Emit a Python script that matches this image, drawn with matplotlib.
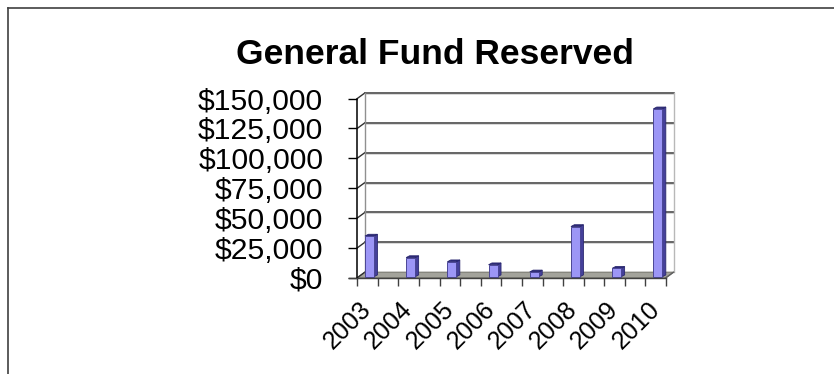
import matplotlib
matplotlib.use("Agg")
import matplotlib.pyplot as plt
from matplotlib.patches import Polygon
from matplotlib.transforms import Affine2D

years = ["2003", "2004", "2005", "2006", "2007", "2008", "2009", "2010"]
reserved = [34000, 16000, 12500, 10000, 4000, 42000, 7000, 140500]
y_ticks = [0, 25000, 50000, 75000, 100000, 125000, 150000]
y_labels = ["$0", "$25,000", "$50,000", "$75,000", "$100,000", "$125,000", "$150,000"]

W, H = 834, 374
DPI = 100
# plot box of the front plane, in pixels from the top left
LEFT, RIGHT, TOP, BOTTOM = 357.3, 666.0, 98.5, 277.7
# offset of the back wall, pixels
DX, DY = 7.5, 5.5
BAR_W = 0.22
BAR_DX, BAR_DY = 3.4, 2.8

plt.rcParams["font.family"] = ["Liberation Sans", "DejaVu Sans"]

fig = plt.figure(figsize=(W / DPI, H / DPI), dpi=DPI, facecolor="white")
ax = fig.add_axes([LEFT / W, 1 - BOTTOM / H, (RIGHT - LEFT) / W, (BOTTOM - TOP) / H])
ax.patch.set_visible(False)
x0, x1 = -0.296, 7.197
ax.set_xlim(x0, x1)
ax.set_ylim(0, 150000)
for s in ax.spines.values():
    s.set_visible(False)

back = ax.transData + Affine2D().translate(DX, DY)
bar_off = ax.transData + Affine2D().translate(BAR_DX, BAR_DY)
base = ax.transData + Affine2D().translate(0, 1.0)


def shift(x, y, trans):
    # display position of a data point, for patches that span two planes
    return trans.transform((x, y))


def poly(points, **kw):
    p = Polygon(points, closed=True, transform=None, clip_on=False, **kw)
    fig.add_artist(p)
    return p


# floor
poly([shift(x0, 0, ax.transData), shift(x1, 0, ax.transData),
      shift(x1, 0, back), shift(x0, 0, back)],
     facecolor="#a3a39b", edgecolor="#77776f", linewidth=0.8, zorder=1)

# gridlines on the back wall and their returns on the side wall
for t in y_ticks:
    a = shift(x0, t, ax.transData)
    b = shift(x0, t, back)
    c = shift(x1, t, back)
    fig.add_artist(plt.Line2D([a[0], b[0]], [a[1], b[1]], transform=None, color="#303030", lw=1.0, zorder=2))
    if t > 0:
        fig.add_artist(plt.Line2D([b[0], c[0]], [b[1], c[1]], transform=None, color="#4a4a4a", lw=1.2, zorder=2))
        fig.add_artist(plt.Line2D([b[0], c[0]], [b[1] - 1, c[1] - 1], transform=None, color="#d8d8d8", lw=0.7, zorder=2))

# wall edges
p = shift(x0, 0, back)
q = shift(x0, 150000, back)
fig.add_artist(plt.Line2D([p[0], q[0]], [p[1], q[1]], transform=None, color="#909090", lw=1.0, zorder=2))
p = shift(x1, 0, back)
q = shift(x1, 150000, back)
fig.add_artist(plt.Line2D([p[0], q[0]], [p[1], q[1]], transform=None, color="#b8b8b8", lw=1.0, zorder=2))
p = shift(x1, 0, ax.transData)
q = shift(x1, 0, back)
fig.add_artist(plt.Line2D([p[0], q[0]], [p[1], q[1]], transform=None, color="#606060", lw=1.0, zorder=2))

# bars: side and top faces first, then the front
for k, v in enumerate(reserved):
    l, r = k - BAR_W / 2, k + BAR_W / 2
    poly([shift(r, 0, base), shift(r, v, base), shift(r, v, bar_off), shift(r, 0, bar_off)],
         facecolor="#45409a", edgecolor="#2a2870", linewidth=0.6, zorder=3)
    poly([shift(l, v, base), shift(r, v, base), shift(r, v, bar_off), shift(l, v, bar_off)],
         facecolor="#2d2a78", edgecolor="#2a2870", linewidth=0.6, zorder=3)
    poly([shift(l, 0, base), shift(r, 0, base), shift(r, v, base), shift(l, v, base)],
         facecolor="#9c96f6", edgecolor="#4a4695", linewidth=0.7, zorder=4)

# front axis lines
fig.add_artist(plt.Line2D([LEFT, LEFT], [H - TOP, H - BOTTOM], transform=None, color="black", lw=1.1, zorder=5))
fig.add_artist(plt.Line2D([LEFT - 8, RIGHT], [H - BOTTOM, H - BOTTOM], transform=None, color="#404040", lw=1.0, zorder=5))

ax.set_yticks(y_ticks)
ax.set_yticklabels(y_labels, fontsize=21.7)
ax.tick_params(axis="y", length=6.5, width=1.0, color="black", pad=18)

# ticks fall between and beside the bars, labels sit under each bar
ax.set_xticks(range(len(years)))
ax.set_xticklabels([])
ax.tick_params(axis="x", which="major", length=0)
minor = [x0 + 0.4996 * i for i in range(16)]
ax.set_xticks(minor, minor=True)
ax.tick_params(axis="x", which="minor", length=6, width=1.0, color="#404040")
for k, year in enumerate(years):
    ax.annotate(year, (k, 0), xytext=(-15.6, -34.5), xycoords="data", textcoords="offset points",
                fontsize=18, rotation=45, ha="center", va="center",
                annotation_clip=False)

fig.text(434.5 / W, 1 - 54 / H, "General Fund Reserved", fontsize=25.5, fontweight="bold", ha="center", va="center")

# chart frame, open on the right and bottom
fig.add_artist(plt.Line2D([7.5, 7.5], [0, H - 7.5], transform=None, color="#404040", lw=1.2))
fig.add_artist(plt.Line2D([7.5, W], [H - 7.5, H - 7.5], transform=None, color="#404040", lw=1.2))

fig.savefig("out.png", dpi=DPI, facecolor="white")
